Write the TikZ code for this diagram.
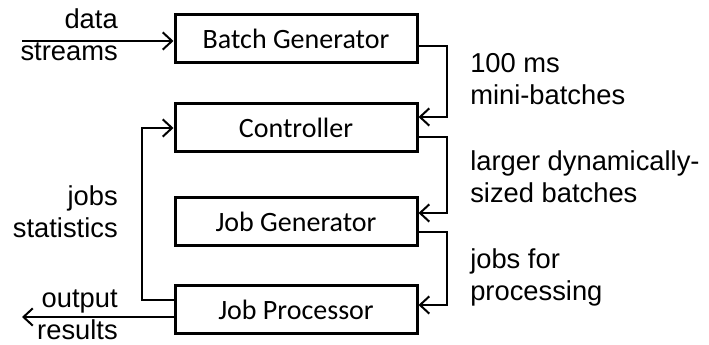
\documentclass[tikz,border=0pt]{standalone}
\usepackage{fontspec}
\setmainfont{Liberation Sans}
\newfontfamily\boxfont{Carlito}
\usetikzlibrary{arrows.meta,calc}
\tikzset{
  blk/.style={draw, line width=2.25pt, minimum width=181.5pt, minimum height=36pt, inner sep=0pt,
              font=\boxfont\fontsize{21}{25}\selectfont},
  conn/.style={line width=1.5pt, -{Straight Barb[length=7pt,width=13pt,line width=1.5pt]}},
  lbl/.style={font=\fontsize{20.5}{24}\selectfont, inner sep=0pt}
}
\begin{document}
\begin{tikzpicture}[x=0.75pt,y=-0.75pt]
\useasboundingbox (0,0) rectangle (709,345);
\node[blk] (bg)  at (296,39)    {Batch Generator};
\node[blk] (ctl) at (296,128)   {Controller};
\node[blk] (jg)  at (296,221.5) {Job Generator};
\node[blk] (jp)  at (296,309.5) {Job Processor};
\coordinate (in)  at (22,41);
\coordinate (out) at (22,317);
% input / output
\draw[conn] (in) -- (bg.west |- in);
\draw[conn] ($(jp.west)+(0,7.5)$) -- (out);
% right chain
\draw[conn] ($(bg.east)+(0,7)$) -- ++(28,0) |- ($(ctl.east)+(0,-11)$);
\draw[conn] ($(ctl.east)+(0,9)$) -- ++(28,0) |- ($(jg.east)+(0,-8.5)$);
\draw[conn] ($(jg.east)+(0,10.5)$) -- ++(28,0) |- ($(jp.east)+(0,-4.5)$);
% feedback
\draw[conn] ($(jp.west)+(0,-9.5)$) -- ++(-32,0) |- (ctl.west);
% labels (base anchor = baseline of last line)
\node[lbl, anchor=base east, align=right] (l1) at (118,61) {data\\streams};
\node[lbl, anchor=base east, align=right] (l2) at (118,237) {jobs\\statistics};
\node[lbl, anchor=base east, align=right] (l3) at (118,339) {output\\results};
\node[lbl, anchor=base west, align=left] (r1) at (470,105) {100 ms\\mini-batches};
\node[lbl, anchor=base west, align=left] (r2) at (470,203) {larger dynamically-\\sized batches};
\node[lbl, anchor=base west, align=left] (r3) at (470,300) {jobs for\\processing};
\end{tikzpicture}
\end{document}
